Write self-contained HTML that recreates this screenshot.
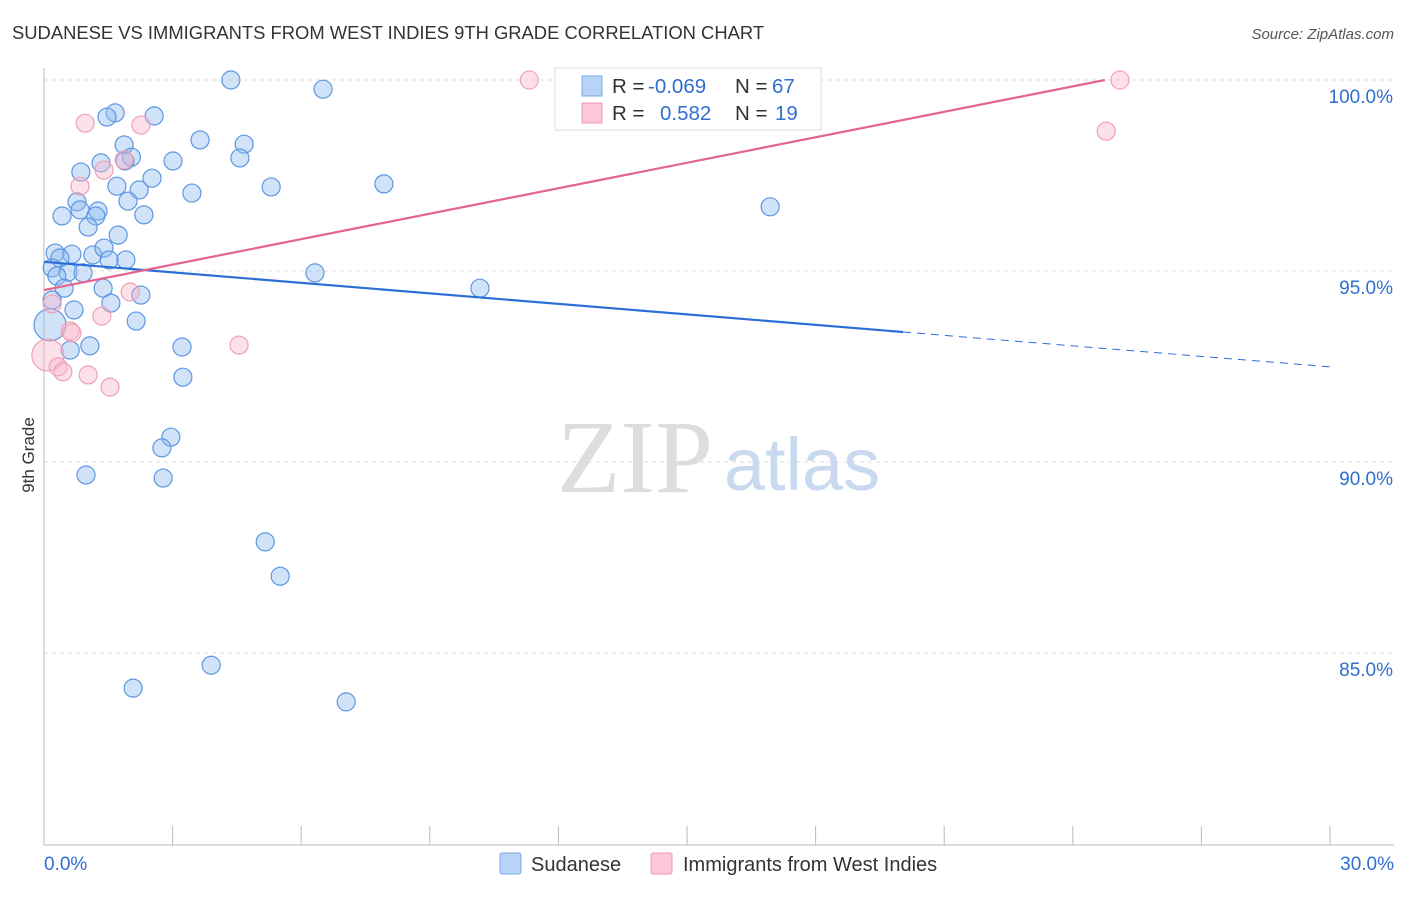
<!DOCTYPE html>
<html><head><meta charset="utf-8"><style>
body{margin:0;background:#fff;font-family:"Liberation Sans",sans-serif;}
</style></head><body>
<svg id="c" width="1406" height="892" xmlns="http://www.w3.org/2000/svg" style="font-family:'Liberation Sans',sans-serif">
<text x="12" y="39" font-size="18.4" fill="#333">SUDANESE VS IMMIGRANTS FROM WEST INDIES 9TH GRADE CORRELATION CHART</text>
<text x="1394" y="39" font-size="15" fill="#555" text-anchor="end" font-style="italic">Source: ZipAtlas.com</text>
<text x="34" y="455" font-size="17" fill="#333" text-anchor="middle" transform="rotate(-90 34 455)">9th Grade</text>
<g>
<text x="635" y="492" font-size="104" fill="#ddd" text-anchor="middle" font-family="Liberation Serif,serif">ZIP</text>
<text x="802" y="490" font-size="74" fill="#c9d9f0" text-anchor="middle">atlas</text>
</g>
<g id="grid"></g><g id="axes"></g><g id="marks"></g>
<g>
<rect x="555" y="68" width="266" height="62" fill="#fff" stroke="#ddd"/>
<rect x="582" y="76" width="20" height="20" fill="#b8d3f5" stroke="#7aa8e8"/>
<rect x="582" y="103" width="20" height="20" fill="#fcc8d8" stroke="#f29ab4"/>
<text x="612" y="93" font-size="20.5" fill="#333">R =</text><text x="648" y="93" font-size="20.5" fill="#2f6fd0">-0.069</text>
<text x="735" y="93" font-size="20.5" fill="#333">N =</text><text x="772" y="93" font-size="20.5" fill="#2f6fd0">67</text>
<text x="612" y="120" font-size="20.5" fill="#333">R =</text><text x="660" y="120" font-size="20.5" fill="#2f6fd0">0.582</text>
<text x="735" y="120" font-size="20.5" fill="#333">N =</text><text x="775" y="120" font-size="20.5" fill="#2f6fd0">19</text>
</g>
<g>
<rect x="500" y="853" width="21" height="21" fill="#b8d3f5" stroke="#7aa8e8" rx="2"/>
<text x="531" y="871" font-size="20" fill="#333">Sudanese</text>
<rect x="651" y="853" width="21" height="21" fill="#fcc8d8" stroke="#f29ab4" rx="2"/>
<text x="683" y="871" font-size="20" fill="#333">Immigrants from West Indies</text>
</g>
</svg>
<script>
const blueX=[4.36,6.51,1.66,1.47,2.57,3.64,4.67,1.87,2.04,4.57,3.01,1.33,1.89,0.86,2.52,1.70,5.30,7.93,2.22,3.45,1.96,0.77,0.84,1.26,1.21,0.42,2.33,1.03,1.73,16.94,0.26,0.65,1.14,1.40,0.37,1.52,1.91,0.19,0.56,0.91,0.30,6.32,10.17,1.38,2.26,0.47,1.56,0.70,0.19,2.15,0.14,1.07,0.61,3.22,3.24,2.96,2.75,0.98,2.78,5.16,5.51,3.90,2.08,7.05];
const blueY=[100.0,99.76,99.14,99.03,99.06,98.43,98.32,98.30,97.98,97.96,97.88,97.83,97.88,97.59,97.43,97.22,97.20,97.28,97.12,97.04,96.83,96.81,96.60,96.57,96.44,96.44,96.47,96.15,95.94,96.68,95.47,95.44,95.42,95.60,95.34,95.29,95.29,95.08,94.97,94.95,94.87,94.95,94.55,94.55,94.37,94.55,94.16,93.98,94.24,93.69,93.59,93.04,92.93,93.01,92.22,90.65,90.37,89.66,89.58,87.91,87.01,84.68,84.08,83.72];
const blueBig=[50];
const pinkX=[11.32,25.1,24.78,0.96,2.26,1.87,1.40,0.84,0.19,2.01,1.35,0.61,0.65,4.55,0.09,0.33,0.44,1.03,1.54];
const pinkY=[100.0,100.0,98.66,98.87,98.82,97.91,97.64,97.22,94.14,94.45,93.82,93.43,93.38,93.06,92.80,92.49,92.36,92.28,91.96];
const pinkBig=[14];
const blueTrend=[95.24,92.49]; // y at x=0 and x=30
const blueSolidEnd=20.04;
const pinkTrend=[94.50,100.0]; // y at x=0 and x=24.75
const pinkEnd=24.75;
const yTicks=[100,95,90,85];
const yTickLabels=["100.0%","95.0%","90.0%","85.0%"];
const xTickLabels=["0.0%","30.0%"];
const NS="http://www.w3.org/2000/svg";
const X=v=>44+v/30*1286;
const Y=v=>80+(100-v)/5*191;
function el(t,a,p){const e=document.createElementNS(NS,t);for(const k in a)e.setAttribute(k,a[k]);document.getElementById(p).appendChild(e);return e;}
yTicks.forEach((t,i)=>{
 const g=el('line',{x1:44,x2:1394,y1:Y(t),y2:Y(t),stroke:'#ddd','stroke-dasharray':'4,4'},'grid');
 
 
 const l=el('text',{x:1393,y:Y(t)+23,'font-size':19,fill:'#2f6fd0','text-anchor':'end'},'grid');l.textContent=yTickLabels[i];
 
 
});
const ax=el('line',{x1:44,x2:44,y1:68,y2:845,stroke:'#bbb'},'axes');


const bx=el('line',{x1:44,x2:1394,y1:845,y2:845,stroke:'#bbb'},'axes');


for(let i=0;i<=10;i++){const t=el('line',{x1:X(i*3),x2:X(i*3),y1:826,y2:845,stroke:'#bbb'},'axes');
 
 }
[[0,'start',44],[30,'end',1394]].forEach((d,i)=>{const t=el('text',{x:d[2],y:870,'font-size':19,fill:'#2f6fd0','text-anchor':d[1]},'axes');t.textContent=xTickLabels[i];
 
 });
blueX.forEach((x,i)=>{const c=el('circle',{cx:X(x),cy:Y(blueY[i]),r:blueBig.includes(i)?16:9,fill:'rgba(140,185,240,0.4)',stroke:'#5d97e2','stroke-width':1.2},'marks');
 
 });
pinkX.forEach((x,i)=>{const c=el('circle',{cx:X(x),cy:Y(pinkY[i]),r:pinkBig.includes(i)?16:9,fill:'rgba(250,180,200,0.4)',stroke:'#f0a0b8','stroke-width':1.2},'marks');
 
 });
const by=x=>blueTrend[0]+(blueTrend[1]-blueTrend[0])*x/30;
const l1=el('line',{x1:X(0),y1:Y(by(0)),x2:X(blueSolidEnd),y2:Y(by(blueSolidEnd)),stroke:'#2a6fd6','stroke-width':2.2},'marks');


const l2=el('line',{x1:X(blueSolidEnd),y1:Y(by(blueSolidEnd)),x2:X(30),y2:Y(by(30)),stroke:'#2a6fd6','stroke-width':1,'stroke-dasharray':'8,6'},'marks');


const l3=el('line',{x1:X(0),y1:Y(pinkTrend[0]),x2:X(pinkEnd),y2:Y(pinkTrend[1]),stroke:'#e4638f','stroke-width':2.2},'marks');


</script>
</body></html>
